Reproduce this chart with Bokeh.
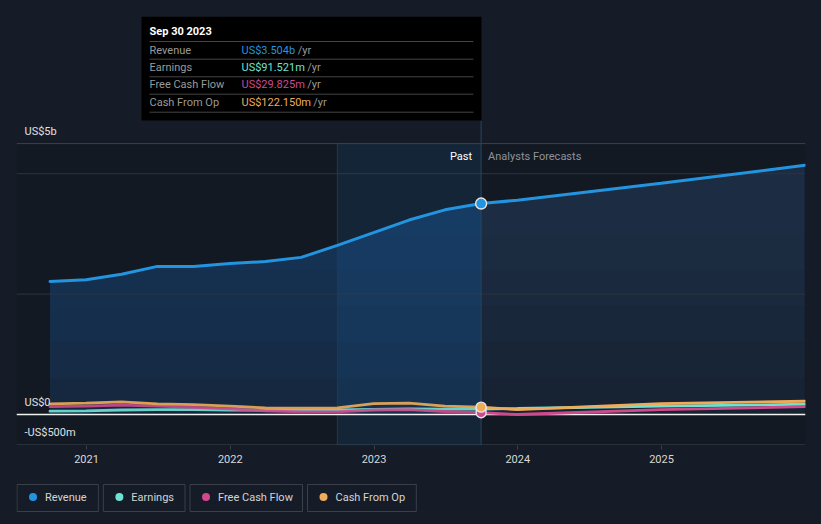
import numpy as np
from datetime import date
from bokeh.plotting import figure
from bokeh.models import Range1d, FixedTicker
from bokeh.layouts import column
from bokeh.core.properties import value
from bokeh.embed import file_html
from bokeh.resources import INLINE

# ---------------- data ----------------
PAST_DATES = ["2020-09-30", "2020-12-31", "2021-03-31", "2021-06-30", "2021-09-30",
              "2021-12-31", "2022-03-31", "2022-06-30", "2022-09-30", "2022-12-31",
              "2023-03-31", "2023-06-30", "2023-09-30"]
FORECAST_DATES = ["2023-09-30", "2023-12-31", "2024-12-31", "2025-12-31"]

# values in US$ billions
REVENUE_PAST = [2.21, 2.24, 2.33, 2.46, 2.46, 2.51, 2.54, 2.61, 2.81, 3.02, 3.23, 3.40, 3.504]
REVENUE_FC = [3.504, 3.56, 3.84, 4.14]
EARNINGS_PAST = [0.055, 0.06, 0.075, 0.08, 0.08, 0.075, 0.07, 0.07, 0.075, 0.085, 0.095, 0.09, 0.091521]
EARNINGS_FC = [0.091521, 0.10, 0.14, 0.17]
FCF_PAST = [0.13, 0.14, 0.155, 0.14, 0.12, 0.095, 0.06, 0.045, 0.045, 0.075, 0.08, 0.05, 0.029825]
FCF_FC = [0.029825, 0.0, 0.08, 0.13]
CFO_PAST = [0.178, 0.19, 0.21, 0.175, 0.165, 0.14, 0.11, 0.105, 0.11, 0.18, 0.19, 0.14, 0.12215]
CFO_FC = [0.12215, 0.08, 0.18, 0.22]

SERIES_NAMES = ["Revenue", "Earnings", "Free Cash Flow", "Cash From Op"]
SERIES_COLORS = ["#2394df", "#6fe3d3", "#cf4a8d", "#eeac5a"]

YEAR_TICKS = [2021, 2022, 2023, 2024, 2025]
YEAR_LABELS = ["2021", "2022", "2023", "2024", "2025"]
Y_TICKS = [-0.5, 0.0, 4.5]
Y_LABELS = ["-US$500m", "US$0", "US$5b"]
GRID_TICKS = [-0.5, 2.0, 4.0]
TOP_TICK = 4.5
TOOLTIP_DATE = "Sep 30 2023"
SEGMENT_LABELS = ["Past", "Analysts Forecasts"]

# ---------------- layout helpers ----------------
BG = "#161c27"
PLOT_BG = "#131922"
FONT = "Roboto"
PX_2021 = 86.0
PX_PER_YEAR = 143.75
PX_ZERO = 414.0
PX_PER_B = 60.2


def px2x(px):
    return 2021 + (px - PX_2021) / PX_PER_YEAR


def py2y(py):
    return (PX_ZERO - py) / PX_PER_B


def dec(s):
    d = date.fromisoformat(s)
    a = date(d.year, 1, 1)
    b = date(d.year + 1, 1, 1)
    return d.year + (d - a).days / (b - a).days


def fmt(v):
    return f"US${v:.3f}b" if v >= 1 else f"US${v * 1000:.3f}m"


def text_width(s, size=11):
    w = {"U": 0.645, "S": 0.6, "$": 0.562, ".": 0.265, "m": 0.875, "b": 0.562,
         " ": 0.25, "i": 0.24, "l": 0.24, "r": 0.34, "F": 0.55, "C": 0.65, "O": 0.68}
    return sum(w.get(c, 0.55) for c in s) * size


xp = np.array([dec(d) for d in PAST_DATES])
xf = np.array([dec(d) for d in FORECAST_DATES])

p = figure(width=821, height=470, output_backend="svg", toolbar_location=None,
           x_range=Range1d(px2x(16), px2x(805)), y_range=Range1d(py2y(445), py2y(16)),
           min_border_left=16, min_border_right=16, min_border_top=16, min_border_bottom=25,
           background_fill_color=BG, border_fill_color=BG, outline_line_color=None, title=None)
p.yaxis.visible = False
p.xgrid.visible = False
p.ygrid.visible = False

ax = p.xaxis[0]
ax.ticker = FixedTicker(ticks=YEAR_TICKS)
ax.major_label_overrides = {t: l for t, l in zip(YEAR_TICKS, YEAR_LABELS)}
ax.axis_line_color = None
ax.major_tick_line_color = "#3a3f48"
ax.major_tick_in = 0
ax.major_tick_out = 4
ax.minor_tick_line_color = None
ax.major_label_text_color = "#d8d8d8"
ax.major_label_text_font = FONT
ax.major_label_text_font_size = "11px"
ax.major_label_standoff = 5

# darker plot region
x0, x1 = px2x(16), px2x(805)
p.quad(left=[x0], right=[x1], bottom=[py2y(445)], top=[TOP_TICK], fill_color=PLOT_BG, line_color=None)


def grad_area(x, top, base, layer, n=6, alpha=0.11, hmax=3.0):
    top = np.asarray(top)
    p.varea(x=x, y1=np.zeros_like(top), y2=top, fill_color=base)
    for h in np.linspace(0, hmax, n):
        p.varea(x=x, y1=np.minimum(h, top), y2=top, fill_color=layer, fill_alpha=alpha)


grad_area(xp, REVENUE_PAST, "#15253a", "#1c4c7a")
grad_area(xf, REVENUE_FC, "#161f2d", "#20405f")

# horizontal grid lines (over the area fill)
p.segment(x0=[x0] * len(GRID_TICKS), x1=[x1] * len(GRID_TICKS), y0=GRID_TICKS, y1=GRID_TICKS,
          line_color="#2e333c", line_width=1)
p.segment(x0=[x0], x1=[x1], y0=[TOP_TICK], y1=[TOP_TICK], line_color="#3d4149", line_width=1)

# highlighted last-year band
band_l, band_r = xp[-5], xp[-1]
p.quad(left=[band_l], right=[band_r], bottom=[py2y(445)], top=[TOP_TICK],
       fill_color="#1a70b8", fill_alpha=0.14, line_color=None)
p.segment(x0=[band_l], x1=[band_l], y0=[py2y(445)], y1=[TOP_TICK], line_color="#1f3a55", line_width=1)
# divider between past and forecast
p.segment(x0=[band_r], x1=[band_r], y0=[py2y(445)], y1=[py2y(120)], line_color="#2a4660", line_width=1)

# zero line
p.segment(x0=[x0], x1=[x1], y0=[0], y1=[0], line_color="#f2f2f2", line_width=1.6)

# series lines
series = [(REVENUE_PAST, REVENUE_FC), (EARNINGS_PAST, EARNINGS_FC), (FCF_PAST, FCF_FC), (CFO_PAST, CFO_FC)]
for i in [1, 2, 3]:
    past, fc = series[i]
    p.line(xp, past, line_color=SERIES_COLORS[i], line_width=2.8, line_cap="round", line_alpha=0.9)
    p.line(xf, fc, line_color=SERIES_COLORS[i], line_width=2.8, line_cap="round")
p.line(xp, REVENUE_PAST, line_color=SERIES_COLORS[0], line_width=3, line_cap="round")
p.line(xf, REVENUE_FC, line_color=SERIES_COLORS[0], line_width=3, line_cap="round")

# markers at last actual
for i in [1, 2, 3, 0]:
    p.scatter(x=[xp[-1]], y=[series[i][0][-1]], size=10 if i else 11, fill_color=SERIES_COLORS[i],
              line_color="#e6e6e6", line_width=1.4)

# y labels
p.text(x=[px2x(24)] * len(Y_TICKS), y=Y_TICKS, text=Y_LABELS, text_font=value(FONT),
       text_font_size="11px", text_color="#e0e0e0", text_baseline="middle", text_align="left",
       y_offset=-12)

# segment labels
ys = py2y(156)
p.text(x=[xp[-1]], y=[ys], text=[SEGMENT_LABELS[0]], text_font=value(FONT), text_font_size="11px",
       text_color="#ffffff", text_baseline="middle", text_align="right", x_offset=-9)
p.text(x=[xp[-1]], y=[ys], text=[SEGMENT_LABELS[1]], text_font=value(FONT), text_font_size="11px",
       text_color="#8d929b", text_baseline="middle", text_align="left", x_offset=7)

# tooltip box
p.quad(left=[px2x(141)], right=[px2x(481)], top=[py2y(16)], bottom=[py2y(120)],
       fill_color="#000000", line_color=None)
p.text(x=[px2x(149)], y=[py2y(31)], text=[TOOLTIP_DATE], text_font=value(FONT),
       text_font_size="11px", text_font_style="bold", text_color="#ffffff", text_baseline="middle")
sep_y = [41, 58.7, 76.3, 93.7, 111.7]
p.segment(x0=[px2x(149)] * 5, x1=[px2x(473)] * 5, y0=[py2y(v) for v in sep_y],
          y1=[py2y(v) for v in sep_y], line_color="#454545", line_width=1)
row_y = [49.5, 67.0, 84.3, 101.8]
last_vals = [REVENUE_PAST[-1], EARNINGS_PAST[-1], FCF_PAST[-1], CFO_PAST[-1]]
for i, name in enumerate(SERIES_NAMES):
    yy = py2y(row_y[i])
    p.text(x=[px2x(149)], y=[yy], text=[name], text_font=value(FONT), text_font_size="11px",
           text_color="#9a9a9a", text_baseline="middle")
    s = fmt(last_vals[i])
    p.text(x=[px2x(241)], y=[yy], text=[s], text_font=value(FONT), text_font_size="11px",
           text_color=SERIES_COLORS[i], text_baseline="middle")
    p.text(x=[px2x(241)], y=[yy], text=["/yr"], text_font=value(FONT), text_font_size="11px",
           text_color="#9a9a9a", text_baseline="middle", x_offset=text_width(s) + 3)

# ---------------- legend ----------------
# frame aligned with the main plot frame (16..805 px)
lg = figure(width=821, height=52, output_backend="svg", toolbar_location=None,
            x_range=Range1d(16, 805), y_range=Range1d(522, 470),
            x_axis_location=None, y_axis_location=None,
            min_border_left=16, min_border_right=16, min_border_top=0,
            min_border_bottom=0, background_fill_color=BG, border_fill_color=BG,
            outline_line_color=None, title=None)
lg.grid.visible = False
lefts, rights, cx, tx = [], [], [], []
cur = 16.5
for name in SERIES_NAMES:
    w = text_width(name) + 39
    lefts.append(cur)
    rights.append(cur + w)
    cx.append(cur + 16)
    tx.append(cur + 28)
    cur += w + 5
lg.quad(left=lefts, right=rights, top=[484] * 4, bottom=[511] * 4, fill_color=None,
        line_color="#3a3f49", line_width=1)
lg.scatter(x=cx, y=[496.5] * 4, size=8, fill_color=SERIES_COLORS, line_color=None)
lg.text(x=tx, y=[496.5] * 4, text=SERIES_NAMES, text_font=value(FONT), text_font_size="11px",
        text_color="#d4d4d4", text_baseline="middle", text_align="left")

layout = column(p, lg, spacing=0)
html = file_html(layout, INLINE)
html = html.replace("</head>", "<style>body{background:%s;}</style></head>" % BG)
open("out.html", "w").write(html)
